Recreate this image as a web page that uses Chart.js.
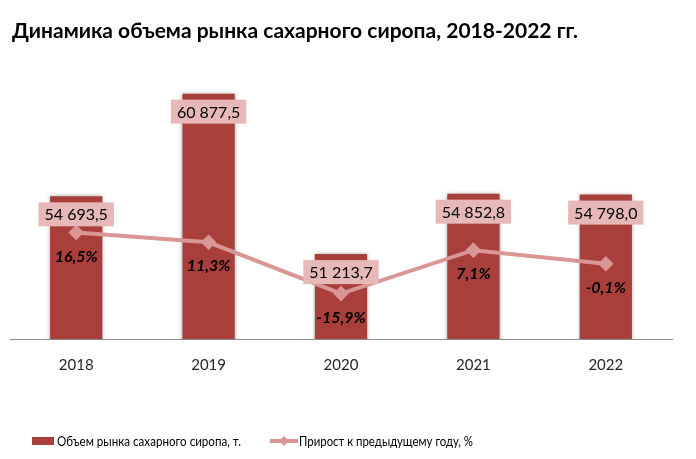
<!DOCTYPE html>
<html lang="ru">
<head>
<meta charset="UTF-8">
<title>Динамика объема рынка сахарного сиропа</title>
<script src="https://cdn.jsdelivr.net/npm/chart.js"></script>
<style>
    body { margin: 0; background: #fff; }
    #wrap { width: 696px; height: 459px; }
</style>
</head>
<body>
<div id="wrap"><canvas id="chart" width="696" height="459"></canvas></div>
<script>
// data
const years = ['2018', '2019', '2020', '2021', '2022'];
const volume = [54693.5, 60877.5, 51213.7, 54852.8, 54798.0];
const growth = [16.5, 11.3, -15.9, 7.1, -0.1];

const titleText = 'Динамика объема рынка сахарного сиропа, 2018-2022 гг.';
const volumeLabel = 'Объем рынка сахарного сиропа, т.';
const growthLabel = 'Прирост к предыдущему году, %';

const barColor = '#A83F3B';
const lineColor = '#D99694';
const boxColor = '#E6B9B8';
const fontName = 'Lato, "Open Sans", sans-serif';

function fmtNum(v) {
    const parts = v.toFixed(1).split('.');
    const intPart = parts[0].replace(/\B(?=(\d{3})+(?!\d))/g, ' ');
    return intPart + ',' + parts[1];
}

function fmtPct(v) {
    return v.toFixed(1).replace('.', ',') + '%';
}

// shadow round the bars
const barShadow = {
    id: 'barShadow',
    beforeDatasetDraw(chart, args) {
        if (args.index !== 0) return;
        const ctx = chart.ctx;
        ctx.save();
        ctx.shadowColor = 'rgba(0,0,0,0.35)';
        ctx.shadowBlur = 4;
    },
    afterDatasetDraw(chart, args) {
        if (args.index !== 0) return;
        chart.ctx.restore();
    }
};

// title, value labels and legend
const extras = {
    id: 'extras',
    afterDraw(chart) {
        const ctx = chart.ctx;
        ctx.save();

        // title
        ctx.fillStyle = '#000';
        ctx.font = 'bold 21px ' + fontName;
        ctx.textAlign = 'left';
        ctx.textBaseline = 'middle';
        ctx.fillText(titleText, 12, 31, 586);

        // line labels
        const lineMeta = chart.getDatasetMeta(1);
        ctx.font = 'italic bold 16px ' + fontName;
        ctx.textAlign = 'center';
        lineMeta.data.forEach((pt, i) => {
            ctx.fillStyle = '#000';
            ctx.fillText(fmtPct(growth[i]), pt.x, pt.y + 24);
        });

        // bar labels in boxes
        const barMeta = chart.getDatasetMeta(0);
        ctx.font = '16px ' + fontName;
        barMeta.data.forEach((bar, i) => {
            const txt = fmtNum(volume[i]);
            const w = ctx.measureText(txt).width + 12;
            const h = 24;
            const cy = bar.y + 18;
            ctx.fillStyle = boxColor;
            ctx.fillRect(bar.x - w / 2, cy - h / 2, w, h);
            ctx.fillStyle = '#000';
            ctx.fillText(txt, bar.x, cy + 1);
        });

        // legend
        const ly = 441;
        ctx.fillStyle = barColor;
        ctx.fillRect(32, ly - 4, 22, 8);
        ctx.font = '14px ' + fontName;
        ctx.textAlign = 'left';
        ctx.fillStyle = '#000';
        ctx.fillText(volumeLabel, 57, ly, 184);

        ctx.strokeStyle = lineColor;
        ctx.lineWidth = 4;
        ctx.beginPath();
        ctx.moveTo(270, ly);
        ctx.lineTo(298, ly);
        ctx.stroke();
        ctx.fillStyle = lineColor;
        ctx.beginPath();
        ctx.moveTo(284, ly - 5);
        ctx.lineTo(289, ly);
        ctx.lineTo(284, ly + 5);
        ctx.lineTo(279, ly);
        ctx.closePath();
        ctx.fill();
        ctx.fillStyle = '#000';
        ctx.fillText(growthLabel, 299, ly, 174);

        ctx.restore();
    }
};

const ctx = document.getElementById('chart').getContext('2d');
new Chart(ctx, {
    data: {
        labels: years,
        datasets: [
            {
                type: 'bar',
                label: volumeLabel,
                data: volume,
                backgroundColor: barColor,
                borderWidth: 0,
                barPercentage: 0.395,
                categoryPercentage: 1,
                yAxisID: 'y',
                order: 2
            },
            {
                type: 'line',
                label: growthLabel,
                data: growth,
                borderColor: lineColor,
                backgroundColor: lineColor,
                borderWidth: 4,
                pointStyle: 'rectRot',
                pointRadius: 5,
                pointHoverRadius: 5,
                tension: 0,
                yAxisID: 'y1',
                order: 1
            }
        ]
    },
    options: {
        responsive: false,
        animation: false,
        layout: { padding: { top: 75, left: 10, right: 24, bottom: 76 } },
        plugins: {
            legend: { display: false },
            title: { display: false },
            tooltip: { enabled: false }
        },
        scales: {
            x: {
                grid: { display: false },
                border: { color: '#8c8c8c', width: 1 },
                ticks: {
                    color: '#262626',
                    font: { family: fontName, size: 15 },
                    padding: 9
                }
            },
            y: { display: false, min: 46100, max: 62000 },
            y1: { display: false, min: -40, max: 100 }
        }
    },
    plugins: [barShadow, extras]
});
</script>
</body>
</html>
